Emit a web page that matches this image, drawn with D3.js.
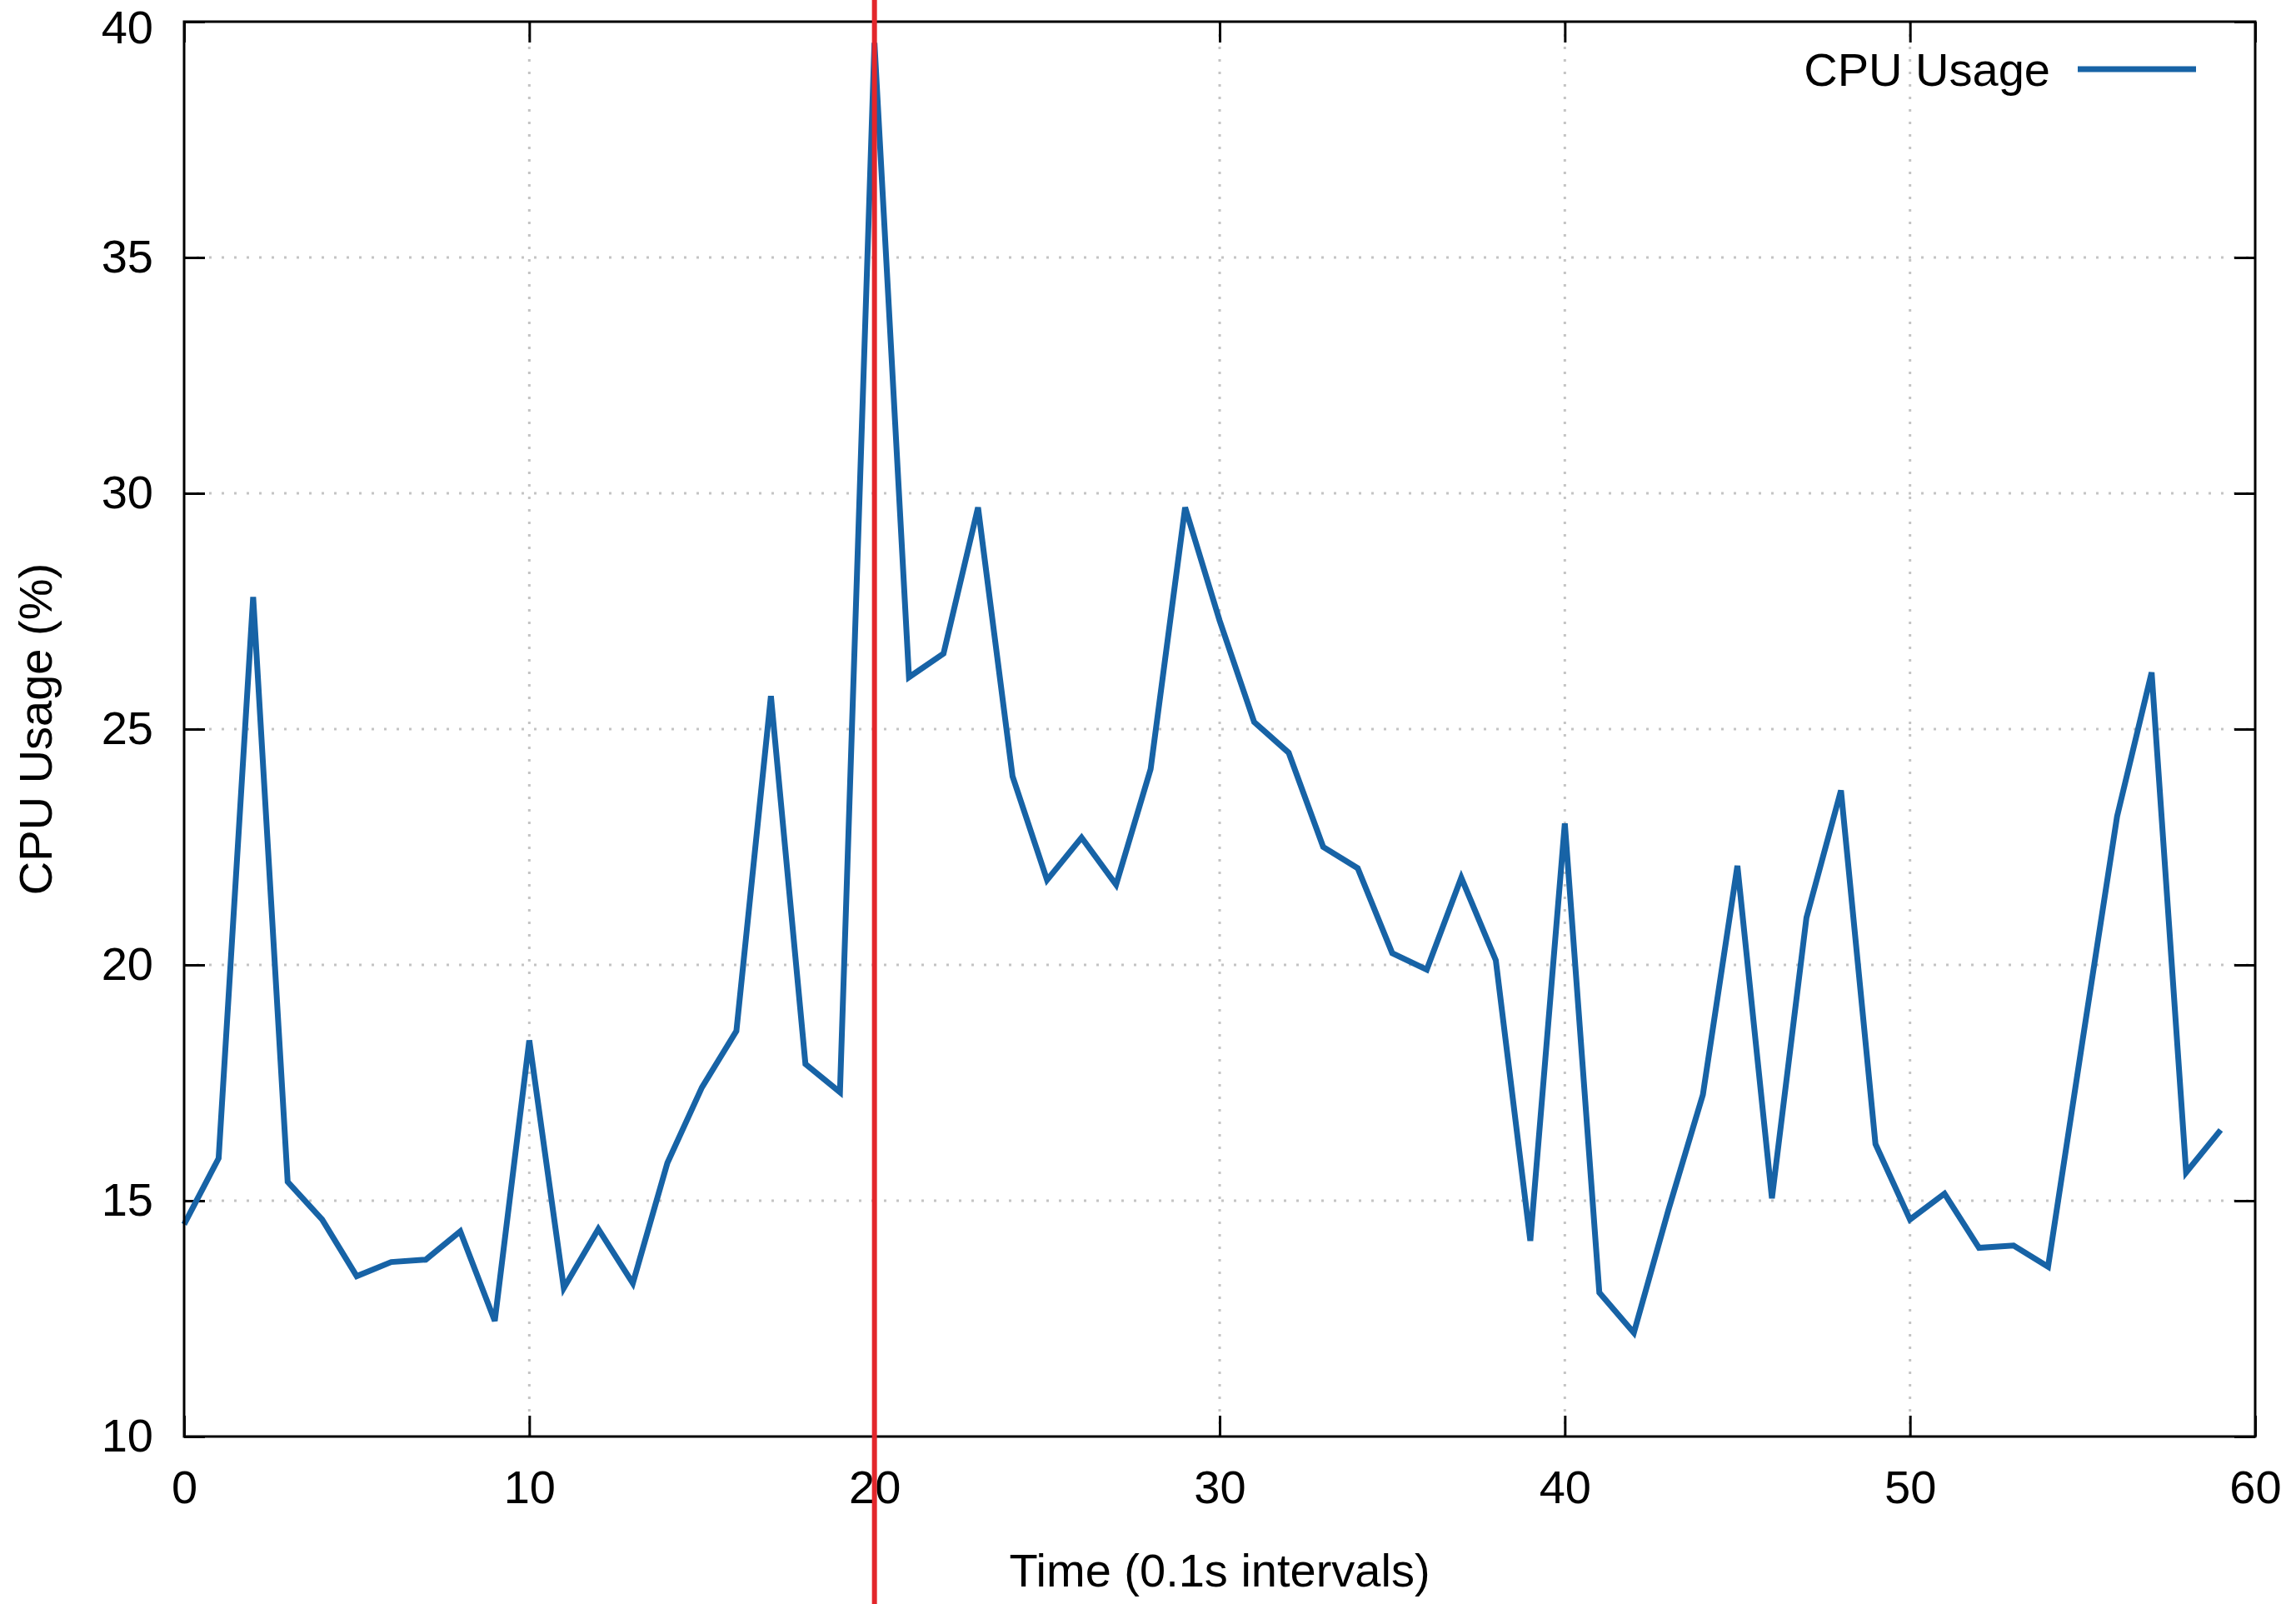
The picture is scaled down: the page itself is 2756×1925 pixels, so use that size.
<!DOCTYPE html>
<html>
<head>
<meta charset="utf-8">
<script src="https://cdn.jsdelivr.net/npm/d3@7"></script>
<style>
  body { margin: 0; background: #fff; }
  svg text { font-family: "Liberation Sans", Arial, sans-serif; fill: #000; }
</style>
</head>
<body>
<div id="chart"></div>
<script>
// data (time step -> cpu %)
var times = d3.range(0, 60);
var cpuUsage = [
    14.5, 15.9, 27.8, 15.4, 14.6, 13.4, 13.7, 13.75, 14.35, 12.45,
    18.4, 13.15, 14.4, 13.25, 15.8, 17.4, 18.6, 25.7, 17.9, 17.3,
    39.55, 26.1, 26.6, 29.7, 24.0, 21.8, 22.7, 21.7, 24.15, 29.7,
    27.3, 25.15, 24.5, 22.5, 22.05, 20.25, 19.9, 21.85, 20.1, 14.15,
    23.0, 13.05, 12.2, 14.8, 17.25, 22.1, 15.05, 21.0, 23.7, 16.2,
    14.6, 15.15, 14.0, 14.05, 13.6, 18.4, 23.15, 26.2, 15.6, 16.5
];
var xTicks = [0, 10, 20, 30, 40, 50, 60];
var yTicks = [10, 15, 20, 25, 30, 35, 40];
var markerTime = 20; // red vertical marker
var seriesName = "CPU Usage";
var xTitle = "Time (0.1s intervals)";
var yTitle = "CPU Usage (%)";

var W = 2756, H = 1925;
var margin = { top: 26, right: 49, bottom: 201, left: 221 };
var width = W - margin.left - margin.right;
var height = H - margin.top - margin.bottom;
var tickLen = 25;
var lineColor = "#1763a6";

var svg = d3.select("#chart").append("svg")
    .attr("width", W)
    .attr("height", H);

var g = svg.append("g")
    .attr("transform", "translate(" + margin.left + "," + margin.top + ")");

var x = d3.scaleLinear().domain([0, 60]).range([0, width]);
var y = d3.scaleLinear().domain([10, 40]).range([height, 0]);

// dotted grid
g.append("g").selectAll("line.gx")
    .data(xTicks.slice(1, -1))
  .enter().append("line")
    .attr("x1", function (d) { return x(d); })
    .attr("x2", function (d) { return x(d); })
    .attr("y1", 0).attr("y2", height)
    .attr("stroke", "#c4c4c4").attr("stroke-width", 3)
    .attr("stroke-dasharray", "3,12");

g.append("g").selectAll("line.gy")
    .data(yTicks.slice(1, -1))
  .enter().append("line")
    .attr("y1", function (d) { return y(d); })
    .attr("y2", function (d) { return y(d); })
    .attr("x1", 0).attr("x2", width)
    .attr("stroke", "#c4c4c4").attr("stroke-width", 3)
    .attr("stroke-dasharray", "3,12");

// axes with inward ticks, mirrored on top/right
var fontSize = 56;
var xAxis = g.append("g")
    .attr("transform", "translate(0," + height + ")")
    .call(d3.axisBottom(x).tickValues(xTicks).tickSizeInner(-tickLen).tickSizeOuter(0).tickPadding(40));
var yAxis = g.append("g")
    .call(d3.axisLeft(y).tickValues(yTicks).tickSizeInner(-tickLen).tickSizeOuter(0).tickPadding(37));
var xTop = g.append("g")
    .call(d3.axisTop(x).tickValues(xTicks).tickSizeInner(-tickLen).tickSizeOuter(0).tickFormat(""));
var yRight = g.append("g")
    .attr("transform", "translate(" + width + ",0)")
    .call(d3.axisRight(y).tickValues(yTicks).tickSizeInner(-tickLen).tickSizeOuter(0).tickFormat(""));

[xAxis, yAxis, xTop, yRight].forEach(function (a) {
    a.select(".domain").remove();
    a.selectAll(".tick line").attr("stroke", "#000").attr("stroke-width", 3);
    a.selectAll(".tick text")
        .attr("font-size", fontSize)
        .attr("font-family", "Liberation Sans, Arial, sans-serif")
        .attr("fill", "#000");
});
xAxis.selectAll(".tick text").attr("dy", "0.71em");
// top label sits right at the picture edge; nudge so it isn't clipped
yAxis.selectAll(".tick text").filter(function (d) { return d === 40; }).attr("dy", "0.45em");

// series line
var line = d3.line()
    .x(function (d, i) { return x(times[i]); })
    .y(function (d) { return y(d); });

g.append("path")
    .datum(cpuUsage)
    .attr("fill", "none")
    .attr("stroke", lineColor)
    .attr("stroke-width", 7)
    .attr("stroke-linejoin", "miter")
    .attr("d", line);

// border
g.append("rect")
    .attr("width", width).attr("height", height)
    .attr("fill", "none").attr("stroke", "#000").attr("stroke-width", 3);

// red marker spans the whole picture
svg.append("line")
    .attr("x1", margin.left + x(markerTime)).attr("x2", margin.left + x(markerTime))
    .attr("y1", 0).attr("y2", H)
    .attr("stroke", "#e3262b").attr("stroke-width", 6);

// legend
var legend = g.append("g").attr("transform", "translate(" + (width - 246) + ",57)");
legend.append("text")
    .attr("text-anchor", "end")
    .attr("dy", "0.35em")
    .attr("font-size", fontSize)
    .text(seriesName);
legend.append("line")
    .attr("x1", 33).attr("x2", 175)
    .attr("stroke", lineColor).attr("stroke-width", 7);

// axis titles
svg.append("text")
    .attr("x", margin.left + width / 2)
    .attr("y", 1904)
    .attr("text-anchor", "middle")
    .attr("font-size", fontSize)
    .text(xTitle);

svg.append("text")
    .attr("transform", "translate(62," + (margin.top + height / 2) + ") rotate(-90)")
    .attr("text-anchor", "middle")
    .attr("font-size", fontSize)
    .text(yTitle);
</script>
</body>
</html>
